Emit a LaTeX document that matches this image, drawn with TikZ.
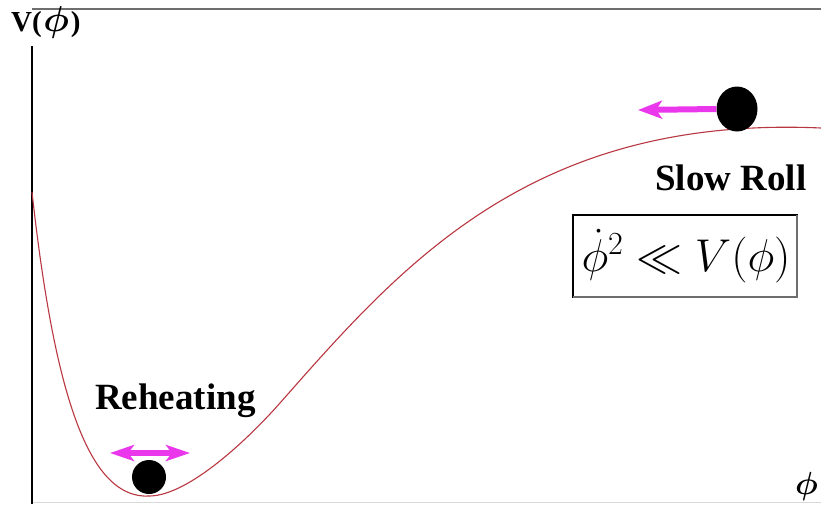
\RequirePackage{fix-cm}
\documentclass[tikz,border=0pt]{standalone}
\usepackage{fontspec}
\setmainfont{Liberation Serif}
\usepackage{bm}
\usetikzlibrary{arrows.meta,shapes.geometric}
\definecolor{curvered}{RGB}{185,55,65}
\definecolor{pushcol}{RGB}{235,55,235}
\definecolor{frameg}{RGB}{110,110,110}
\begin{document}
\begin{tikzpicture}[x=1pt,y=-1pt,
  curve/.style={line width=1.1pt, draw=curvered},
  ball/.style={fill=black, inner sep=0pt},
  pushone/.style={draw=pushcol, line width=6pt, -{Stealth[length=24pt,width=18pt,inset=6pt]}},
  pushtwo/.style={draw=pushcol, line width=6pt, {Stealth[length=24pt,width=16pt,inset=6pt]}-{Stealth[length=24pt,width=16pt,inset=6pt]}},
  lbl/.style={font=\fontsize{37}{40}\selectfont\bfseries, inner sep=0pt, anchor=base west}
]
\useasboundingbox (0,0) rectangle (821,504);
\fill[white] (0,0) rectangle (821,504);
% frame / axes
\coordinate (tl) at (32,9);
\coordinate (tr) at (821,9);
\coordinate (ytop) at (32,46);
\coordinate (ybot) at (32,504);
\coordinate (bl) at (32,502);
\coordinate (br) at (821,502);
\draw[frameg, line width=2.5pt] (tl) -- (tr);
\draw[black!15, line width=1pt] (bl) -- (br);
\draw[black, line width=1.6pt] (ytop) -- (ybot);
% potential curve
\coordinate (c0) at (32,192);
\coordinate (cmin) at (150,496);
\coordinate (c2) at (280,403);
\coordinate (c4) at (821,128);
\draw[curve] (c0) .. controls (55,400) and (90,500) .. (cmin)
  .. controls (190,495) and (250,437) .. (c2)
  .. controls (400,267) and (530,115) .. (c4);
% labels
\node[lbl, font=\fontsize{29}{32}\selectfont\bfseries] (vlab) at (11,31) {V(\kern1.5pt{\fontsize{36}{38}\selectfont$\bm{\phi}$}\kern2pt)};
\node[lbl] (slow) at (655,190) {Slow Roll};
\node[lbl] (reh) at (95,409) {Reheating};
\node[inner sep=0pt, anchor=base east, font=\fontsize{32}{34}\selectfont] (philab) at (818,494) {$\bm{\phi}$};
% formula box
\coordinate (b1) at (573,215);
\coordinate (b2) at (797,297);
\coordinate (b3) at (797,215);
\coordinate (b4) at (573,297);
\draw[black, line width=1.2pt] (b1) rectangle (b2);
\draw[frameg, line width=2.5pt] (b3) -- (b2) -- (b4);
\node[inner sep=0pt, font=\fontsize{46}{50}\selectfont] (formula) at (686,256) {$\dot\phi^2 \ll V(\phi)$};
% balls and arrows
\node[ball, ellipse, minimum width=41pt, minimum height=45pt] (topball) at (737,109) {};
\coordinate (toptip) at (638,110);
\draw[pushone] (topball.west) -- (toptip);
\node[ball, circle, minimum size=34pt] (lowball) at (149,477) {};
\coordinate (la) at (110,453);
\coordinate (ra) at (190,453);
\draw[pushtwo] (la) -- (ra);
\end{tikzpicture}
\end{document}
